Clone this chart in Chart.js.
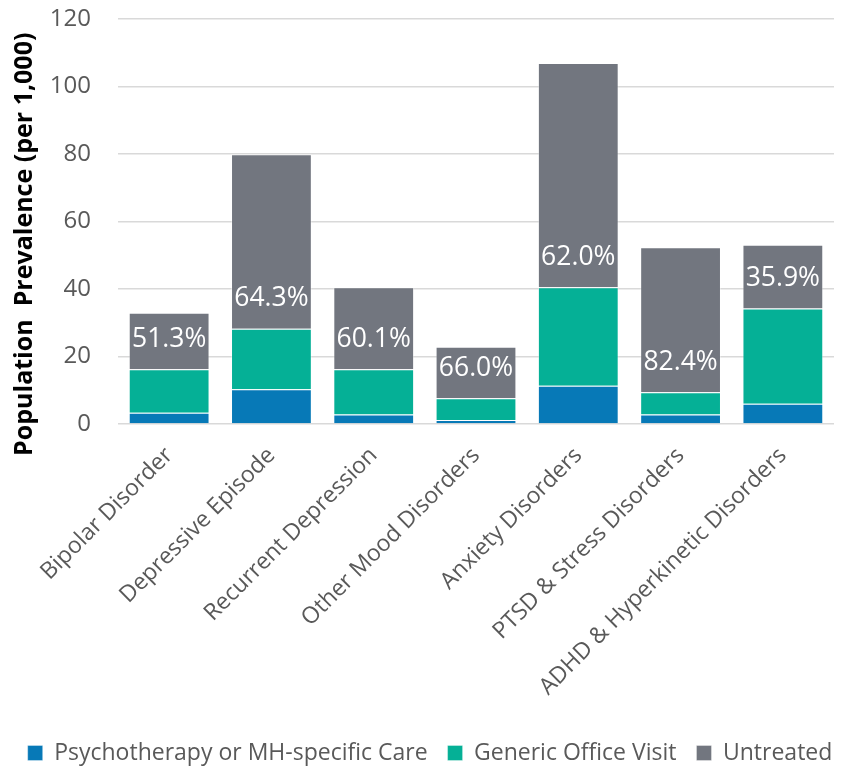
<!DOCTYPE html>
<html>
<head>
<meta charset="utf-8">
<script src="https://cdn.jsdelivr.net/npm/chart.js@4.4.1/dist/chart.umd.min.js"></script>
<style>
  html, body { margin: 0; padding: 0; background: #ffffff; }
  #wrap { width: 860px; height: 769px; position: relative; }
</style>
</head>
<body>
<div id="wrap"><canvas id="c"></canvas></div>
<script>
const categories = [
  "Bipolar Disorder",
  "Depressive Episode",
  "Recurrent Depression",
  "Other Mood Disorders",
  "Anxiety Disorders",
  "PTSD & Stress Disorders",
  "ADHD & Hyperkinetic Disorders"
];
const psychotherapy = [3.35, 10.3, 2.8, 1.2, 11.3, 2.8, 6.0];
const genericVisit  = [12.85, 17.9, 13.4, 6.4, 29.2, 6.6, 28.2];
const untreated     = [16.8, 51.7, 24.3, 15.3, 66.5, 43.0, 18.9];
const untreatedPct  = ["51.3%", "64.3%", "60.1%", "66.0%", "62.0%", "82.4%", "35.9%"];
const yTicks = [0, 20, 40, 60, 80, 100, 120];

const FONT = "'Open Sans', 'DejaVu Sans', sans-serif";
const GREY_TEXT = "#595959";

const pctLabels = {
  id: "pctLabels",
  afterDatasetsDraw(chart) {
    const meta = chart.getDatasetMeta(2);
    const ctx = chart.ctx;
    ctx.save();
    ctx.fillStyle = "#ffffff";
    ctx.font = "26.5px " + FONT;
    ctx.textAlign = "center";
    ctx.textBaseline = "middle";
    meta.data.forEach((bar, i) => {
      const p = bar.getProps(["x", "base"], true);
      ctx.fillText(untreatedPct[i], p.x, p.base - 30);
    });
    ctx.restore();
  }
};

const chart = new Chart(document.getElementById("c"), {
  type: "bar",
  data: {
    labels: categories,
    datasets: [
      { label: "Psychotherapy or MH-specific Care", data: psychotherapy, backgroundColor: "#0779B7", borderColor: "rgba(255,255,255,0.35)", borderWidth: 1 },
      { label: "Generic Office Visit", data: genericVisit, backgroundColor: "#05B096", borderColor: "rgba(255,255,255,0.35)", borderWidth: 1 },
      { label: "Untreated", data: untreated, backgroundColor: "#72767F", borderColor: "rgba(255,255,255,0.35)", borderWidth: 1 }
    ]
  },
  options: {
    responsive: true,
    maintainAspectRatio: false,
    animation: false,
    layout: { padding: { left: 0, right: 0, top: 19, bottom: -5.5 } },
    datasets: { bar: { categoryPercentage: 0.79, barPercentage: 1.0 } },
    plugins: {
      legend: {
        position: "bottom",
        labels: {
          font: { family: FONT, size: 23 },
          color: GREY_TEXT,
          boxWidth: 15,
          boxHeight: 15,
          padding: 20
        }
      },
      tooltip: { enabled: false }
    },
    scales: {
      x: {
        stacked: true,
        grid: { display: false },
        border: { display: false },
        ticks: {
          font: { family: FONT, size: 23 },
          color: GREY_TEXT,
          minRotation: 45,
          maxRotation: 45,
          autoSkip: false,
          padding: 10
        },
        afterFit(scale) { scale.height = 297.5; }
      },
      y: {
        stacked: true,
        min: 0,
        max: 120,
        afterBuildTicks(scale) { scale.ticks = yTicks.map(v => ({ value: v })); },
        grid: { color: "#D9D9D9", lineWidth: 1.5, drawTicks: false },
        border: { display: false },
        ticks: {
          font: { family: FONT, size: 24 },
          color: GREY_TEXT,
          padding: 27
        },
        title: {
          display: true,
          text: "Population  Prevalence (per 1,000)       ",
          font: { family: FONT, size: 25, weight: "bold" },
          color: "#000000",
          padding: { top: 10, bottom: 0 }
        },
        afterFit(scale) { scale.width = 118; scale.paddingTop = 0; scale.paddingBottom = 0; }
      },
      yRight: {
        position: "right",
        display: true,
        min: 0,
        max: 120,
        grid: { display: false },
        border: { display: false },
        ticks: { display: false },
        afterFit(scale) { scale.width = 26; scale.paddingTop = 0; scale.paddingBottom = 0; }
      }
    }
  },
  plugins: [pctLabels]
});
</script>
</body>
</html>
